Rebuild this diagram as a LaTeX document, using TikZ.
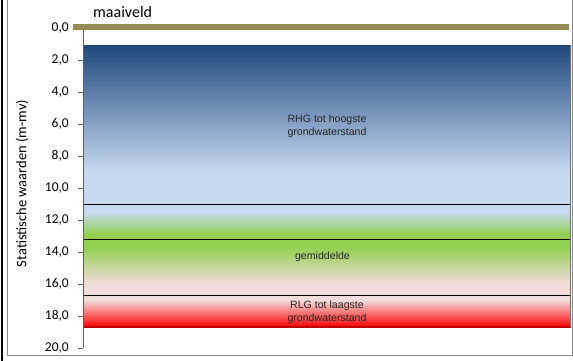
\documentclass[tikz,border=0pt]{standalone}
\usepackage{fontspec}
\setmainfont{Carlito}
\newfontfamily\arialf{Liberation Sans}
\definecolor{navy}{RGB}{31,73,125}
\definecolor{lblue}{RGB}{198,217,241}
\definecolor{xgreen}{RGB}{146,208,80}
\definecolor{xpink}{RGB}{242,220,219}
\definecolor{xred}{RGB}{255,0,0}
\definecolor{oliveband}{RGB}{148,138,84}
\definecolor{framegray}{RGB}{134,134,134}
\definecolor{axisgray}{RGB}{95,95,95}
\definecolor{labeltext}{RGB}{38,38,38}
\begin{document}
\begin{tikzpicture}[x=1pt,y=-1pt,
  ticklabel/.style={anchor=east, font=\fontsize{13.5}{15}\selectfont, inner sep=0pt},
  bandlabel/.style={align=center, font=\arialf\fontsize{10.6}{13}\selectfont, text=labeltext, inner sep=0pt},
  divider/.style={black, line width=0.9pt},
]
\useasboundingbox (0,0) rectangle (573,361);
% outer frames
\draw[black, line width=1.2pt] (2,-2) -- (2,363);
\draw[framegray, line width=1pt] (7.5,-5) -- (7.5,355.5) -- (572,355.5) -- (572,-5);
% bands
\fill[top color=navy, bottom color=lblue] (83,46) rectangle (571,172);
\fill[lblue] (83,171.5) rectangle (571,212.5);
\fill[top color=lblue, bottom color=xgreen] (83,212) rectangle (571,234.5);
\fill[xgreen] (83,234) rectangle (571,247.5);
\fill[top color=xgreen, bottom color=xpink] (83,247) rectangle (571,283.5);
\fill[xpink] (83,283) rectangle (571,300.5);
\fill[top color=xpink, bottom color=xred] (83,300) rectangle (571,327);
\draw[red!75!black, line width=1.5pt] (83,327) -- (571,327);
\draw[divider] (83,204) -- (571,204);
\draw[divider] (83,239) -- (571,239);
\draw[divider] (83,295) -- (571,295);
\draw[black!55, line width=1pt] (570.5,46) -- (570.5,327);
% axis
\draw[axisgray, line width=0.9pt] (83,28) -- (83,348);
\foreach \v in {0,2,...,20} {
  \draw[axisgray, line width=0.9pt] (77.5,28+16*\v) -- (83,28+16*\v);
  \node[ticklabel] (tick\v) at (69,28+16*\v) {\v,0};
}
% maaiveld
\draw[oliveband, line width=6.5pt] (73,26.8) -- (569,26.8);
\node[anchor=base west, inner sep=0pt, font=\fontsize{16}{18}\selectfont] (maaiveld) at (93,18) {maaiveld};
% axis title
\node[rotate=90, inner sep=0pt, font=\fontsize{14.5}{16}\selectfont] (ytitle) at (22,183.5) {Statistische waarden (m-mv)};
% band labels
\node[bandlabel] (rhg) at (327,126) {RHG tot hoogste\\grondwaterstand};
\node[bandlabel] (gem) at (322.5,257) {gemiddelde};
\node[bandlabel] (rlg) at (327,312) {RLG tot laagste\\grondwaterstand};
\end{tikzpicture}
\end{document}
